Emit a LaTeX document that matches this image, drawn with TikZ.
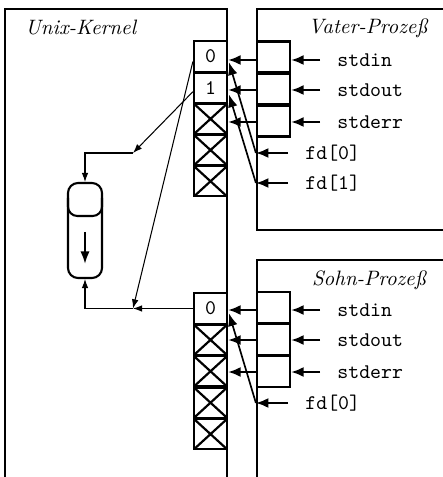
\documentclass[tikz,border=0pt]{standalone}
\usetikzlibrary{arrows.meta,calc}
\newdimen\pxu \pxu=0.48pt
\begin{document}
\begin{tikzpicture}[x=\pxu,y=-\pxu,
  frame/.style={line width=0.85pt},
  kcell/.style={draw, line width=1.05pt, minimum width=33\pxu, minimum height=30.2\pxu, inner sep=0pt, font=\ttfamily},
  xcell/.style={kcell, path picture={\draw[line width=1.05pt]
     (path picture bounding box.north west) -- (path picture bounding box.south east)
     (path picture bounding box.north east) -- (path picture bounding box.south west);}},
  pcell/.style={draw, line width=1.05pt, minimum width=33\pxu, minimum height=31\pxu, inner sep=0pt},
  lab/.style={font=\ttfamily, anchor=west, inner xsep=17\pxu, inner ysep=0pt, text height=1.6ex, text depth=0.25ex},
  title/.style={font=\itshape, inner sep=0pt},
  harrow/.style={-{Latex[length=6pt,width=4.8pt]}, line width=1pt},
  sarrow/.style={-{Latex[length=6pt,width=4.6pt]}, line width=0.8pt},
  thin/.style={-{Latex[length=4.4pt,width=3.2pt]}, line width=0.5pt}
]
\useasboundingbox (0,0) rectangle (443,477);

% frames
\draw[frame] (5,477) -- (5,9) -- (227,9) -- (227,477);
\draw[frame] (443,9) -- (257,9) -- (257,230) -- (443,230);
\draw[frame] (443,260) -- (257,260) -- (257,477);

% titles
\node[title, anchor=west] (tk) at (25,28) {Unix-Kernel};
\node[title] (tv) at (368,28) {Vater-Proze\ss};
\node[title] (ts) at (369,280) {Sohn-Proze\ss};

% kernel tables (Vater)
\node[kcell] (kv0) at (210.5,56.5) {0};
\node[kcell] (kv1) at (210.5,87.7) {1};
\node[xcell] (kv2) at (210.5,118.9) {};
\node[xcell] (kv3) at (210.5,150.1) {};
\node[xcell] (kv4) at (210.5,181.3) {};

% kernel tables (Sohn)
\node[kcell] (ks0) at (210.5,308.5) {0};
\node[xcell] (ks1) at (210.5,339.9) {};
\node[xcell] (ks2) at (210.5,371.3) {};
\node[xcell] (ks3) at (210.5,402.7) {};
\node[xcell] (ks4) at (210.5,434.1) {};

% process tables
\node[pcell] (pv0) at (273.5,57) {};
\node[pcell] (pv1) at (273.5,89) {};
\node[pcell] (pv2) at (273.5,121) {};
\node[pcell] (ps0) at (273.5,307.5) {};
\node[pcell] (ps1) at (273.5,339.5) {};
\node[pcell] (ps2) at (273.5,371.5) {};

% labels Vater
\node[lab] (lv0) at (320,60) {stdin};
\node[lab] (lv1) at (320,90) {stdout};
\node[lab] (lv2) at (320,122) {stderr};
\node[lab] (lvf0) at (288,153) {fd[0]};
\node[lab] (lvf1) at (288,183) {fd[1]};
% labels Sohn
\node[lab] (ls0) at (320,310) {stdin};
\node[lab] (ls1) at (320,340) {stdout};
\node[lab] (ls2) at (320,372) {stderr};
\node[lab] (lsf0) at (288,403) {fd[0]};

% label arrows
\foreach \l/\p in {lv0/pv0, lv1/pv1, lv2/pv2, ls0/ps0, ls1/ps1, ls2/ps2}{
  \draw[harrow] (\l.west) -- (\l.west -| \p.east);
}
\foreach \l in {lvf0, lvf1}{
  \draw[harrow] (\l.west) -- (\l.west -| pv0.west);
}
\draw[harrow] (lsf0.west) -- (lsf0.west -| ps0.west);

% process -> kernel
\draw[harrow] (lv0.west -| pv0.west) -- (lv0.west -| kv0.east);
\draw[harrow] (lv1.west -| pv1.west) -- (lv1.west -| kv1.east);
\draw[harrow] (lv2.west -| pv2.west) -- (lv2.west -| kv2.east);
\draw[harrow] (ls0.west -| ps0.west) -- (ls0.west -| ks0.east);
\draw[harrow] (ls1.west -| ps1.west) -- (ls1.west -| ks1.east);
\draw[harrow] (ls2.west -| ps2.west) -- (ls2.west -| ks2.east);

% fd -> kernel (slanted)
\draw[sarrow] (lvf0.west -| pv0.west) -- ($(kv0.east)+(1,6)$);
\draw[sarrow] (lvf1.west -| pv0.west) -- ($(kv1.east)+(1,7)$);
\draw[sarrow] (lsf0.west -| ps0.west) -- ($(ks0.east)+(1,5)$);

% pipe
\node[draw, line width=1pt, rounded corners=4.8pt, minimum width=34\pxu, minimum height=95\pxu, inner sep=0pt] (pipe) at (85,230.5) {};
\draw[line width=1pt, rounded corners=4.5pt] (68,198) -- (68,216) -- (102,216) -- (102,198);
\draw[-{Latex[length=6pt,width=4.4pt]}, line width=1pt] (85,232) -- (85,264);

% kernel -> pipe connectors
\coordinate (j1) at (133,153);
\coordinate (j2) at (133,308.5);
\draw[thin] ($(kv1.west)+(0,4)$) -- (j1);
\draw[thin] (j1) -- (j1 -| pipe.north) -- (pipe.north);
\draw[thin] ($(kv0.west)+(0,5)$) -- (j2);
\draw[thin] (ks0.west) -- (j2);
\draw[thin] (j2) -- (j2 -| pipe.south) -- (pipe.south);
\end{tikzpicture}
\end{document}
